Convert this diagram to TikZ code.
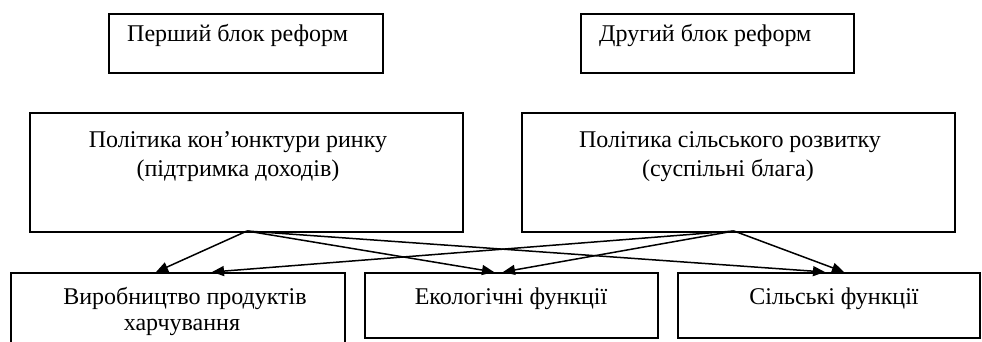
\documentclass[tikz,border=0pt]{standalone}
\usepackage{fontspec}
\setmainfont{Liberation Serif}
\usetikzlibrary{arrows.meta}
\begin{document}
\begin{tikzpicture}[x=1pt,y=-1pt,
  boxst/.style={draw,line width=1.7pt,inner sep=0pt,anchor=north west},
  txt/.style={font=\fontsize{24}{29}\selectfont,inner sep=0pt,align=center},
  arr/.style={line width=1.5pt,-{Triangle[length=12pt,width=10pt]}}]
\useasboundingbox (0,0) rectangle (982,341);
% boxes
\node[boxst,minimum width=274pt,minimum height=59pt] (b1) at (108,13) {};
\node[boxst,minimum width=273pt,minimum height=59pt] (b2) at (580,13) {};
\node[boxst,minimum width=433pt,minimum height=119pt] (b3) at (29,112) {};
\node[boxst,minimum width=433pt,minimum height=119pt] (b4) at (521,112) {};
\node[boxst,minimum width=334pt,minimum height=80pt] (b5) at (10,272) {};
\node[boxst,minimum width=293pt,minimum height=65pt] (b6) at (364,272) {};
\node[boxst,minimum width=302pt,minimum height=65pt] (b7) at (677,272) {};
% texts
\node[txt,anchor=base west] (t1) at (127,41) {Перший блок реформ};
\node[txt,anchor=base west] (t2) at (599,41) {Другий блок реформ};
\node[txt,anchor=base] (t3a) at (238,147) {Політика кон’юнктури ринку};
\node[txt,anchor=base] (t3b) at (238,176) {(підтримка доходів)};
\node[txt,anchor=base] (t4a) at (730,147) {Політика сільського розвитку};
\node[txt,anchor=base] (t4b) at (728,176) {(суспільні блага)};
\node[txt,anchor=base] (t5a) at (185,304) {Виробництво продуктів};
\node[txt,anchor=base] (t5b) at (182,330) {харчування};
\node[txt,anchor=base] (t6) at (511,304) {Екологічні функції};
\node[txt,anchor=base] (t7) at (834,304) {Сільські функції};
% connector ends
\coordinate (s1) at (247,231);
\coordinate (s2) at (734,231);
\coordinate (e1) at (156,272);
\coordinate (e2) at (212,272);
\coordinate (e3) at (494,272);
\coordinate (e4) at (503,272);
\coordinate (e5) at (825,272);
\coordinate (e6) at (844,272);
\draw[arr] (s1) -- (e1);
\draw[arr] (s1) -- (e3);
\draw[arr] (s1) -- (e5);
\draw[arr] (s2) -- (e2);
\draw[arr] (s2) -- (e4);
\draw[arr] (s2) -- (e6);
\end{tikzpicture}
\end{document}
